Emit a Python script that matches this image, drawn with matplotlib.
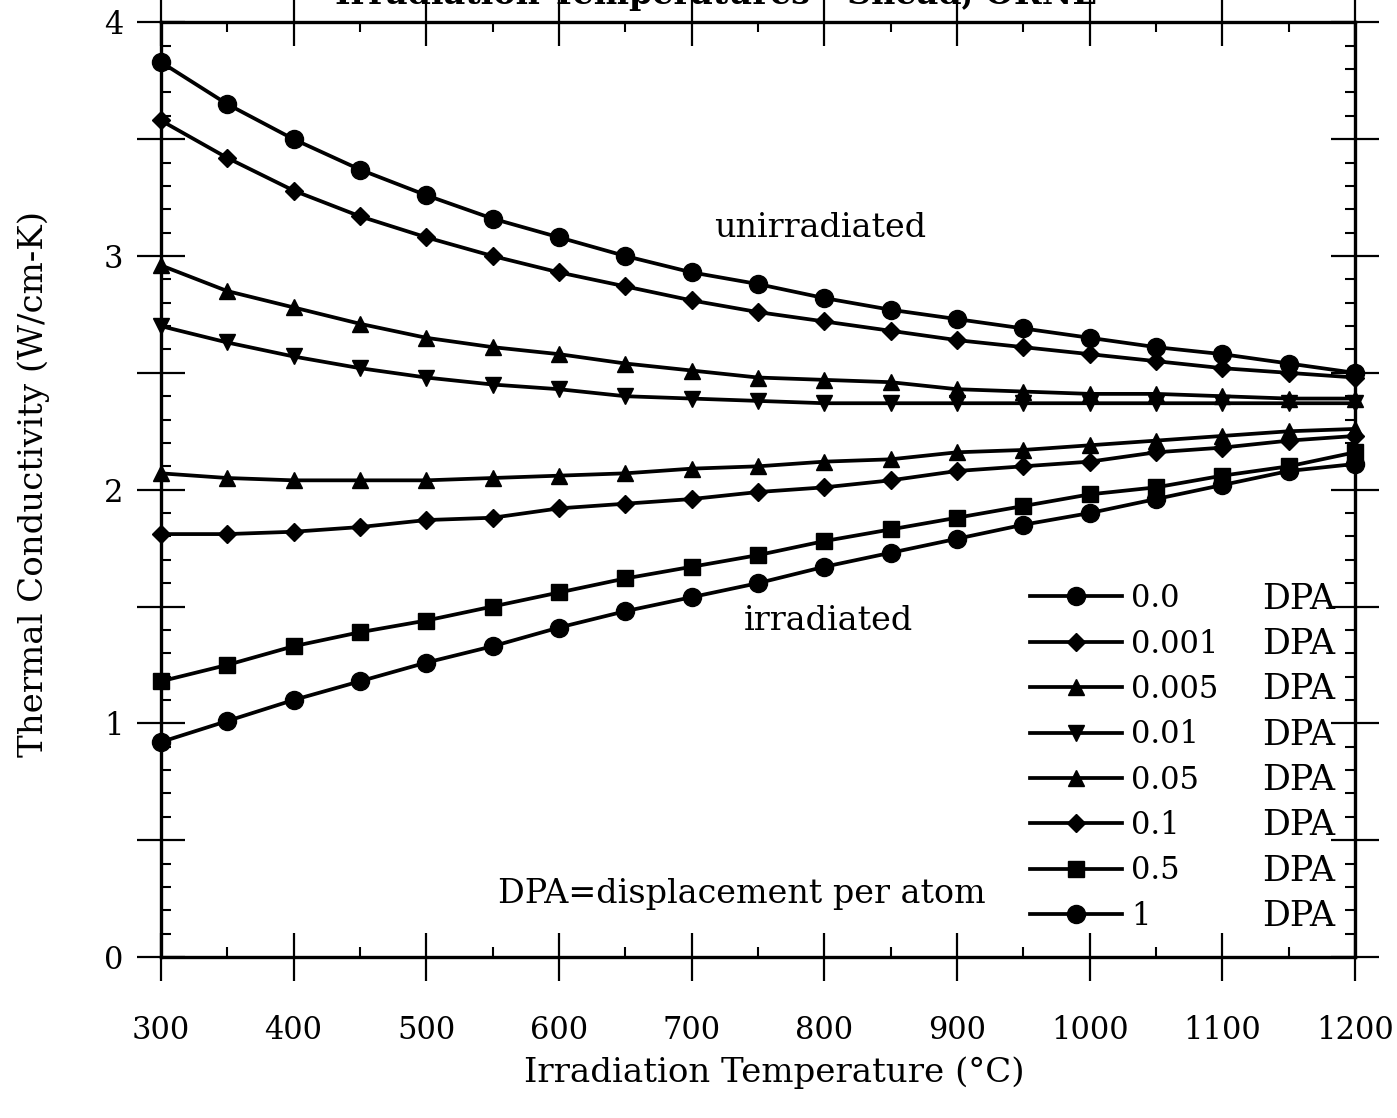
import matplotlib
matplotlib.use("Agg")
import matplotlib.pyplot as plt
from matplotlib.ticker import MultipleLocator, FuncFormatter

plt.rcParams['font.family'] = ['DejaVu Serif']

# irradiation temperature (C)
temps = [300, 350, 400, 450, 500, 550, 600, 650, 700, 750,
         800, 850, 900, 950, 1000, 1050, 1100, 1150, 1200]

# thermal conductivity (W/cm-K) per dose
k_0 = [3.83, 3.65, 3.50, 3.37, 3.26, 3.16, 3.08, 3.00, 2.93, 2.88,
       2.82, 2.77, 2.73, 2.69, 2.65, 2.61, 2.58, 2.54, 2.50]
k_0001 = [3.58, 3.42, 3.28, 3.17, 3.08, 3.00, 2.93, 2.87, 2.81, 2.76,
          2.72, 2.68, 2.64, 2.61, 2.58, 2.55, 2.52, 2.50, 2.48]
k_0005 = [2.96, 2.85, 2.78, 2.71, 2.65, 2.61, 2.58, 2.54, 2.51, 2.48,
          2.47, 2.46, 2.43, 2.42, 2.41, 2.41, 2.40, 2.39, 2.39]
k_001 = [2.70, 2.63, 2.57, 2.52, 2.48, 2.45, 2.43, 2.40, 2.39, 2.38,
         2.37, 2.37, 2.37, 2.37, 2.37, 2.37, 2.37, 2.37, 2.37]
k_005 = [2.07, 2.05, 2.04, 2.04, 2.04, 2.05, 2.06, 2.07, 2.09, 2.10,
         2.12, 2.13, 2.16, 2.17, 2.19, 2.21, 2.23, 2.25, 2.26]
k_01 = [1.81, 1.81, 1.82, 1.84, 1.87, 1.88, 1.92, 1.94, 1.96, 1.99,
        2.01, 2.04, 2.08, 2.10, 2.12, 2.16, 2.18, 2.21, 2.23]
k_05 = [1.18, 1.25, 1.33, 1.39, 1.44, 1.50, 1.56, 1.62, 1.67, 1.72,
        1.78, 1.83, 1.88, 1.93, 1.98, 2.01, 2.06, 2.10, 2.16]
k_1 = [0.92, 1.01, 1.10, 1.18, 1.26, 1.33, 1.41, 1.48, 1.54, 1.60,
       1.67, 1.73, 1.79, 1.85, 1.90, 1.96, 2.02, 2.08, 2.11]

dose_labels = ['0.0', '0.001', '0.005', '0.01', '0.05', '0.1', '0.5', '1']
series = [k_0, k_0001, k_0005, k_001, k_005, k_01, k_05, k_1]
markers = ['o', 'D', '^', 'v', '^', 'D', 's', 'o']
msizes = [13, 9, 12, 12, 11, 9, 12, 13]

fig = plt.figure(figsize=(13.97, 11.18), dpi=100)
ax = fig.add_axes([0.1152, 0.144, 0.8548, 0.836])

for k, lab, m, ms in zip(series, dose_labels, markers, msizes):
    ax.plot(temps, k, color='black', lw=2.7, marker=m, ms=ms,
            label=lab, clip_on=False)

ax.set_xlim(300, 1200)
ax.set_ylim(0, 4)

ax.xaxis.set_major_locator(MultipleLocator(100))
ax.xaxis.set_minor_locator(MultipleLocator(50))
ax.yaxis.set_major_locator(MultipleLocator(0.5))
ax.yaxis.set_minor_locator(MultipleLocator(0.1))
ax.yaxis.set_major_formatter(FuncFormatter(
    lambda v, p: f"{int(v)}" if abs(v - round(v)) < 1e-6 else ""))

ax.tick_params(which='major', direction='inout', length=34, width=1.6,
               top=True, right=True, labelsize=22, color='black')
ax.tick_params(axis='x', which='major', pad=25)
ax.tick_params(axis='y', which='major', pad=10)
ax.tick_params(which='minor', direction='in', length=7, width=1.5,
               top=True, right=True)
for s in ax.spines.values():
    s.set_linewidth(2.4)

ax.set_xlabel('Irradiation Temperature (°C)', fontsize=24.5)
ax.set_ylabel('Thermal Conductivity (W/cm-K)', fontsize=24.5)
ax.xaxis.set_label_coords(0.514, -0.106)
ax.yaxis.set_label_coords(-0.093, 0.506)

ax.text(797, 3.12, 'unirradiated', fontsize=24, ha='center', va='center')
ax.text(803, 1.44, 'irradiated', fontsize=24, ha='center', va='center')
ax.text(738, 0.27, 'DPA=displacement per atom', fontsize=24,
        ha='center', va='center')

fig.text(0.512, 0.996, 'Irradiation Temperatures - Snead, ORNL',
         fontsize=24, fontweight='bold', ha='center', va='baseline')

leg = ax.legend(loc='upper left', bbox_to_anchor=(0.728, 0.40),
                frameon=False, fontsize=22, handlelength=3.0,
                handletextpad=0.3, labelspacing=0.47, borderpad=0,
                borderaxespad=0)
for txt in leg.get_texts():
    ax.annotate('DPA', xy=(0.983, 0.5), xycoords=('axes fraction', txt),
                ha='right', va='center', fontsize=25, zorder=10)

fig.savefig('out.png', dpi=100)
